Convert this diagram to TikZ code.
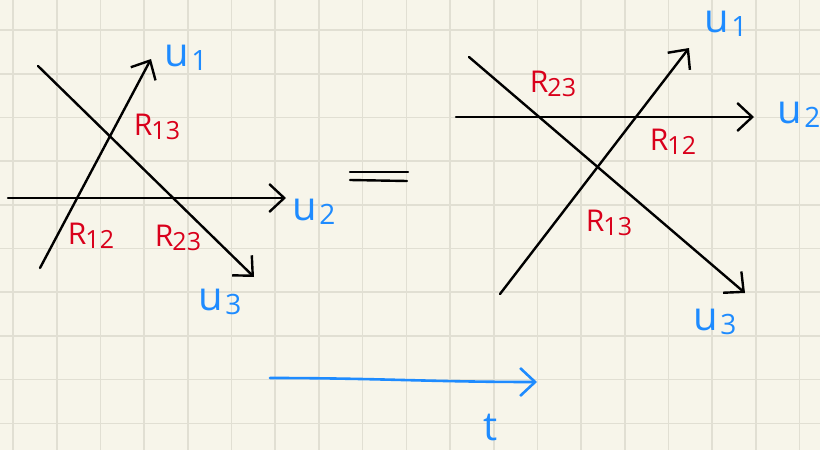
\documentclass[tikz,border=0pt]{standalone}
\usepackage{fontspec}
\setmainfont{Open Sans}
\usetikzlibrary{arrows.meta}
\definecolor{paper}{HTML}{F7F5EA}
\definecolor{gridc}{HTML}{E1DFD3}
\definecolor{inkred}{HTML}{D9001B}
\definecolor{inkblue}{HTML}{1E8BFF}
\tikzset{
  wire/.style={line width=2.4pt, black, line cap=round},
  wirearr/.style={wire, -{Straight Barb[length=15pt,width=28pt,line width=2.4pt]}},
  rlab/.style={text=inkred, font=\fontsize{30}{30}\selectfont, inner sep=0pt},
  ulab/.style={text=inkblue, font=\fontsize{40}{40}\selectfont, inner sep=0pt},
}
\newcommand{\Rsub}[1]{R\kern-1pt{\fontsize{25}{25}\selectfont\raisebox{-4pt}{#1}}}
\newcommand{\Usub}[1]{u\kern2pt{\fontsize{28}{28}\selectfont\raisebox{-4pt}{#1}}}
\begin{document}
\begin{tikzpicture}[x=1pt,y=-1pt]
\useasboundingbox (0,0) rectangle (820,450);
\fill[paper] (0,0) rectangle (820,450);
\foreach \i in {0,...,18} \draw[gridc, line width=1.6pt] ({13+43.7*\i},0) -- ({13+43.7*\i},450);
\foreach \j in {0,...,9} \draw[gridc, line width=1.6pt] (0,{30+43.7*\j}) -- (820,{30+43.7*\j});
% left diagram
\coordinate (a1s) at (40,268);  \coordinate (a1e) at (151,59);
\coordinate (a2s) at (8,198);   \coordinate (a2e) at (286,198);
\coordinate (a3s) at (38,66);   \coordinate (a3e) at (254,277);
\draw[wirearr] (a1s) -- (a1e);
\draw[wirearr] (a2s) -- (a2e);
\draw[wirearr] (a3s) -- (a3e);
\node[ulab] (lu1) at (186,58) {\Usub{1}};
\node[ulab] (lu2) at (314,212) {\Usub{2}};
\node[ulab] (lu3) at (220,302) {\Usub{3}};
\node[rlab] (lr13) at (157,127) {\Rsub{13}};
\node[rlab] (lr12) at (91,236) {\Rsub{12}};
\node[rlab] (lr23) at (178,238) {\Rsub{23}};
% equals
\coordinate (e1s) at (350,172); \coordinate (e1e) at (408,172);
\coordinate (e2s) at (350,180); \coordinate (e2e) at (407,181);
\draw[wire] (e1s) -- (e1e);
\draw[wire] (e2s) -- (e2e);
% right diagram
\coordinate (b1s) at (500,294); \coordinate (b1e) at (689,48);
\coordinate (b2s) at (456,117); \coordinate (b2e) at (754,117);
\coordinate (b3s) at (469,57);  \coordinate (b3e) at (745,293);
\draw[wirearr] (b1s) -- (b1e);
\draw[wirearr] (b2s) -- (b2e);
\draw[wirearr] (b3s) -- (b3e);
\node[ulab] (ru1) at (726,24) {\Usub{1}};
\node[ulab] (ru2) at (799,115) {\Usub{2}};
\node[ulab] (ru3) at (715,322) {\Usub{3}};
\node[rlab] (rr23) at (553,84) {\Rsub{23}};
\node[rlab] (rr12) at (673,142) {\Rsub{12}};
\node[rlab] (rr13) at (609,223) {\Rsub{13}};
% time arrow
\coordinate (ts) at (270,378); \coordinate (te) at (537,382);
\draw[line width=2.6pt, inkblue, line cap=round, -{Straight Barb[length=15pt,width=28pt,line width=2.6pt]}] (ts) to[out=0,in=180] (te);
\node[ulab] (tl) at (491,428) {t};
\end{tikzpicture}
\end{document}
